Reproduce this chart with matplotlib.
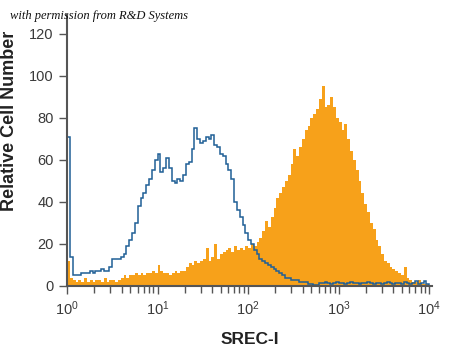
import numpy as np
import matplotlib
matplotlib.use("Agg")
import matplotlib.pyplot as plt
from matplotlib.ticker import LogLocator, NullFormatter

# 128 channels, 32 per decade, from 10^0 to 10^4
edges = 10 ** (np.arange(129) / 32)

# isotype control (blue outline)
control = [
    71, 14, 5, 5, 5, 6, 6, 6, 7, 6,
    7, 7, 8, 7, 7, 9, 13, 13, 13, 14,
    15, 19, 22, 25, 30, 38, 42, 44, 48, 51,
    55, 60, 63, 54, 56, 61, 56, 50, 49, 51,
    50, 53, 58, 59, 65, 75, 70, 68, 69, 71,
    70, 72, 67, 66, 63, 62, 58, 55, 51, 40,
    36, 33, 29, 25, 22, 20, 17, 15, 13, 12,
    11, 10, 9, 8, 7, 6, 5, 4, 4, 3,
    3, 3, 2, 2, 2, 1, 1, 0.5, 0.5, 1.5,
    1.5, 2, 1.5, 1, 1.5, 2, 1.5, 1.5, 1, 1.5,
    2, 1.5, 1.5, 1, 1.5, 1.5, 2, 1.5, 1, 1.5,
    1.5, 1, 1.5, 2, 1.5, 1, 1.5, 1.5, 1, 2,
    1.5, 1, 1.5, 2.5, 1, 1.5, 2.5, 1,
]

# SREC-I stained cells (orange fill)
srec = [
    12, 4, 3, 2, 3, 2, 4, 2, 3, 2,
    3, 3, 2, 4, 2, 3, 3, 2, 3, 4,
    5, 4, 5, 5, 6, 5, 6, 5, 6, 6,
    7, 6, 10, 7, 6, 6, 5, 6, 7, 6,
    7, 7, 9, 11, 10, 12, 11, 12, 13, 18,
    12, 14, 20, 13, 15, 16, 17, 18, 16, 19,
    17, 18, 17, 19, 18, 20, 19, 21, 23, 26,
    31, 28, 33, 37, 42, 44, 47, 50, 53, 58,
    65, 62, 66, 70, 74, 76, 80, 82, 84, 89,
    95, 85, 86, 90, 85, 80, 78, 74, 77, 70,
    64, 60, 55, 50, 44, 39, 35, 30, 27, 22,
    19, 15, 12, 11, 9, 8, 7, 6, 5, 9,
    4, 3, 2, 2, 3, 1, 1, 1,
]

orange = "#F7A11A"
blue = "#1F5F96"
grey = "#555555"

plt.rcParams["font.family"] = ["Liberation Sans", "DejaVu Sans"]
plt.rcParams["mathtext.fontset"] = "custom"
plt.rcParams["mathtext.rm"] = "Liberation Sans"
plt.rcParams["mathtext.it"] = "Liberation Sans"

fig = plt.figure(figsize=(4.5, 3.53), dpi=100)
ax = fig.add_axes([0.149, 0.19, 0.811, 0.768])

ax.stairs(srec, edges, fill=True, color=orange, lw=0)
ax.stairs(control, edges, color=blue, lw=1.1)

ax.set_xscale("log")
ax.set_xlim(1, 10 ** 4.03)
ax.set_ylim(0, 129)
ax.set_yticks([0, 20, 40, 60, 80, 100, 120])
ax.set_xticks([1, 10, 100, 1000, 10000])
ax.set_xticklabels([r"$\mathregular{10^0}$", r"$\mathregular{10^1}$", r"$\mathregular{10^2}$",
                    r"$\mathregular{10^3}$", r"$\mathregular{10^4}$"])
ax.xaxis.set_minor_locator(LogLocator(base=10, subs=np.arange(2, 10)))
ax.xaxis.set_minor_formatter(NullFormatter())

for s in ["top", "right"]:
    ax.spines[s].set_visible(False)
for s in ["left", "bottom"]:
    ax.spines[s].set_color(grey)
    ax.spines[s].set_linewidth(1.5)

ax.tick_params(axis="both", which="major", direction="out", length=6, width=1,
               color=grey, labelcolor="#3a3a3a", labelsize=10.5)
ax.tick_params(axis="x", which="minor", direction="out", length=5, width=1, color=grey)

ax.set_ylabel("Relative Cell Number", fontsize=13, fontweight="bold", color="#222222")
ax.yaxis.set_label_coords(-0.135, 0.61)
ax.set_xlabel("SREC-I", fontsize=12.5, fontweight="bold", color="#222222", labelpad=10)

fig.text(0.022, 0.955, "with permission from R&D Systems", fontsize=9, style="italic",
         family="Liberation Serif", color="#111111", va="center")

fig.savefig("out.png", dpi=100)
